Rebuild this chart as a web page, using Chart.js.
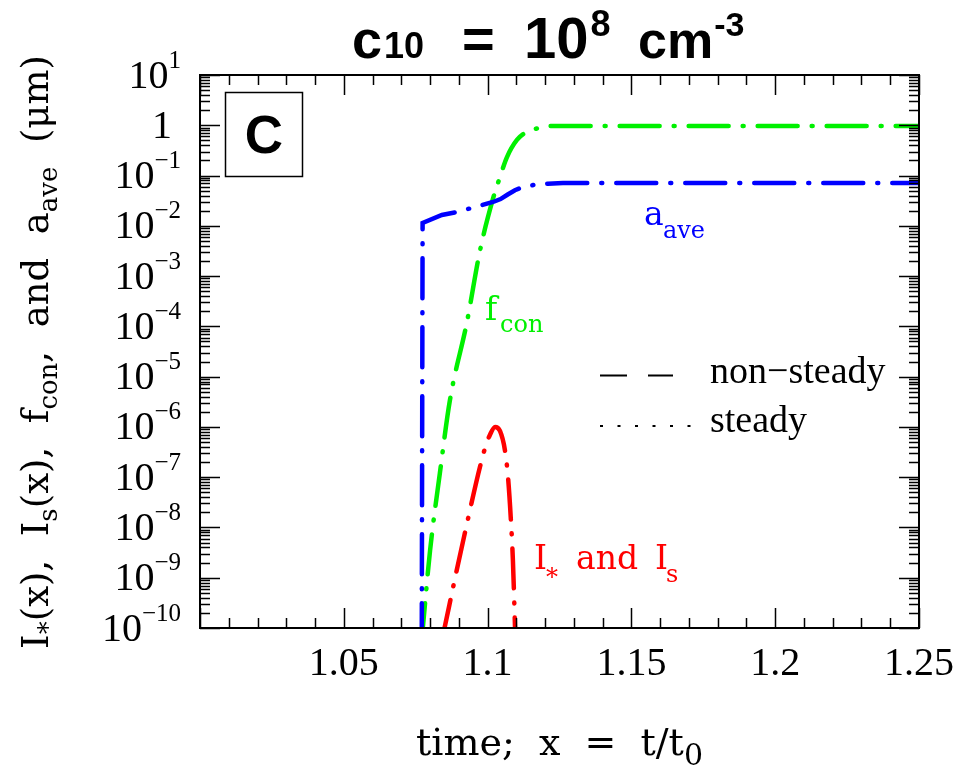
<!DOCTYPE html>
<html>
<head>
<meta charset="utf-8">
<script src="https://cdn.jsdelivr.net/npm/chart.js@4"></script>
<style>
  html, body { margin: 0; padding: 0; background: #fff; }
  #wrap { width: 960px; height: 766px; }
</style>
</head>
<body>
<div id="wrap"><canvas id="chart" width="960" height="766"></canvas></div>
<script>
// ----- DATA -----
// a_ave, average grain radius (um), blue
const aaveX = [1.0771, 1.0774, 1.0841, 1.0894, 1.1019, 1.1045, 1.1070, 1.1095, 1.1123, 1.1160, 1.1210, 1.1262, 1.25];
const aaveY = [5e-11, 0.0114, 0.0164, 0.0188, 0.0298, 0.034, 0.042, 0.051, 0.059, 0.065, 0.069, 0.071, 0.071];

// f_con, condensation efficiency, green
const fconX = [1.0770, 1.0800, 1.0834, 1.0869, 1.0928, 1.0974, 1.1019, 1.1043, 1.1067, 1.1102, 1.1137, 1.1182, 1.1234, 1.25];
const fconY = [5e-11, 3.5e-9, 1.2e-7, 3.4e-6, 1.2e-4, 3.3e-3, 0.035, 0.093, 0.23, 0.51, 0.74, 0.89, 0.97, 0.97];

// I_* and I_s, nucleation rates, red
const istarX = [1.0842, 1.0918, 1.0991, 1.1008, 1.1026, 1.1043, 1.1060, 1.1071, 1.1081, 1.1088, 1.1097];
const istarY = [6e-11, 6.5e-9, 3.8e-7, 6.9e-7, 1.0e-6, 8.3e-7, 3.5e-7, 1.0e-7, 1.4e-8, 2.2e-9, 5e-11];

// ----- AXES -----
const xMin = 1.0, xMax = 1.25;
const yMin = 1e-10, yMax = 10;
const xTickValues = [1.05, 1.1, 1.15, 1.2, 1.25];
const xTickLabels = ['1.05', '1.1', '1.15', '1.2', '1.25'];
const yTickExps = [1, 0, -1, -2, -3, -4, -5, -6, -7, -8, -9, -10];

// ----- HELPERS -----
const serif = '"Liberation Serif", serif';
const dserif = '"DejaVu Serif", serif';
const sans = '"Liberation Sans", Arial, sans-serif';

function partsWidth(ctx, parts, family) {
  let w = 0;
  for (const p of parts) {
    ctx.font = (p[3] || '') + ' ' + p[1] + 'px ' + family;
    w += ctx.measureText(p[0]).width + (p[4] || 0);
  }
  return w;
}

// draw text pieces of mixed size: [text, size, dy, weight, extra gap after]
function drawParts(ctx, x, y, parts, family, color) {
  ctx.fillStyle = color;
  ctx.textAlign = 'left';
  ctx.textBaseline = 'alphabetic';
  let cx = x;
  for (const p of parts) {
    ctx.font = (p[3] || '') + ' ' + p[1] + 'px ' + family;
    ctx.fillText(p[0], cx, y + (p[2] || 0));
    cx += ctx.measureText(p[0]).width + (p[4] || 0);
  }
}

function expLabel(e) {
  if (e === 0) return [['1', 40, 0]];
  return [['10', 40, 0], [e < 0 ? '\u2212' + (-e) : String(e), 25, -20]];
}

// frame, inward ticks, labels and annotations
const decorPlugin = {
  id: 'decor',
  afterDraw(chart) {
    const ctx = chart.ctx;
    const xs = chart.scales.x, ys = chart.scales.y;
    const { left, right, top, bottom } = chart.chartArea;
    ctx.save();

    // frame
    ctx.strokeStyle = '#000';
    ctx.lineWidth = 2;
    ctx.strokeRect(left, top, right - left, bottom - top);

    // x ticks every 0.01, long every 0.05
    ctx.lineWidth = 1.5;
    ctx.beginPath();
    for (let i = 0; i <= 25; i++) {
      const px = Math.round(xs.getPixelForValue(xMin + i * 0.01)) + 0.5;
      const len = i % 5 === 0 ? 20 : 10;
      ctx.moveTo(px, bottom); ctx.lineTo(px, bottom - len);
      ctx.moveTo(px, top); ctx.lineTo(px, top + len);
    }
    // y ticks, decades long, 2..9 short
    for (const e of yTickExps) {
      const py = Math.round(ys.getPixelForValue(Math.pow(10, e))) + 0.5;
      ctx.moveTo(left, py); ctx.lineTo(left + 20, py);
      ctx.moveTo(right, py); ctx.lineTo(right - 20, py);
      if (e < 1) {
        for (let k = 2; k <= 9; k++) {
          const pm = Math.round(ys.getPixelForValue(k * Math.pow(10, e))) + 0.5;
          ctx.moveTo(left, pm); ctx.lineTo(left + 10, pm);
          ctx.moveTo(right, pm); ctx.lineTo(right - 10, pm);
        }
      }
    }
    ctx.stroke();

    // x tick labels
    ctx.fillStyle = '#000';
    ctx.font = '40px ' + serif;
    ctx.textAlign = 'center';
    ctx.textBaseline = 'alphabetic';
    xTickValues.forEach((v, i) => {
      ctx.fillText(xTickLabels[i], xs.getPixelForValue(v), bottom + 47);
    });

    // y tick labels
    for (const e of yTickExps) {
      const py = ys.getPixelForValue(Math.pow(10, e));
      const parts = expLabel(e);
      const w = partsWidth(ctx, parts, serif);
      drawParts(ctx, (e === 0 ? 172 : 181) - w, py + 12.5, parts, serif, '#000');
    }

    // x axis title
    const xt = [['time;  x  =  t/t', 38, 0], ['0', 30, 10]];
    const xtw = partsWidth(ctx, xt, dserif);
    drawParts(ctx, (left + right) / 2 - xtw / 2, 755, xt, dserif, '#000');

    // y axis title (rotated)
    const yt = [['I', 37, 0], ['*', 26, 9], ['(x),  I', 37, 0], ['s', 26, 9],
                ['(x),  f', 37, 0], ['con', 26, 9], [',  and  a', 37, 0], ['ave', 26, 9],
                ['  (\u03bcm)', 37, 0]];
    const ytw = partsWidth(ctx, yt, dserif);
    ctx.save();
    ctx.translate(48, 352);
    ctx.rotate(-Math.PI / 2);
    drawParts(ctx, -ytw / 2, 0, yt, dserif, '#000');
    ctx.restore();

    // title
    drawParts(ctx, 352, 58, [['c', 54, 0, 'bold', 2], ['10', 36, 0, 'bold']], sans, '#000');
    drawParts(ctx, 462, 58, [['=', 56, 0, 'bold']], sans, '#000');
    drawParts(ctx, 524, 58, [['10', 58, 0, 'bold', 2], ['8', 36, -22, 'bold']], sans, '#000');
    drawParts(ctx, 638, 58, [['cm', 52, 0, 'bold', 1], ['-3', 34, -22, 'bold']], sans, '#000');

    // panel letter box
    ctx.lineWidth = 1.5;
    ctx.strokeStyle = '#000';
    ctx.strokeRect(225.5, 92.5, 77, 84);
    ctx.font = 'bold 53px ' + sans;
    ctx.textAlign = 'center';
    ctx.fillText('C', 264, 153);

    // curve labels
    drawParts(ctx, 644, 225, [['a', 33, 0]], dserif, '#0000ff');
    drawParts(ctx, 663, 238, [['ave', 24, 0]], dserif, '#0000ff');
    drawParts(ctx, 485, 320, [['f', 33, 0]], dserif, '#00f000');
    drawParts(ctx, 500, 332, [['con', 24, 0]], dserif, '#00f000');
    drawParts(ctx, 534, 569, [['I', 33, 0]], dserif, '#ff0000');
    drawParts(ctx, 546, 585, [['*', 24, 0]], dserif, '#ff0000');
    drawParts(ctx, 576, 569, [['and', 33, 0]], dserif, '#ff0000');
    drawParts(ctx, 655, 569, [['I', 33, 0]], dserif, '#ff0000');
    drawParts(ctx, 666, 582, [['s', 24, 0]], dserif, '#ff0000');

    // line style key
    ctx.strokeStyle = '#000';
    ctx.lineWidth = 2;
    ctx.beginPath();
    ctx.moveTo(600, 375.5); ctx.lineTo(627, 375.5);
    ctx.moveTo(648, 375.5); ctx.lineTo(673, 375.5);
    ctx.stroke();
    ctx.fillStyle = '#000';
    for (let i = 0; i < 6; i++) ctx.fillRect(600 + i * 17.5, 425, 3, 2);
    drawParts(ctx, 710, 383, [['non\u2212steady', 38, 0]], serif, '#000');
    drawParts(ctx, 710, 432, [['steady', 38, 0]], serif, '#000');

    ctx.restore();
  }
};

function pts(xa, ya) { return xa.map((x, i) => ({ x: x, y: ya[i] })); }

const lineStyle = {
  borderWidth: 4.5,
  borderDash: [40, 14, 1, 14],
  borderCapStyle: 'round',
  pointRadius: 0,
  fill: false
};

const ctx = document.getElementById('chart').getContext('2d');
new Chart(ctx, {
  type: 'line',
  data: {
    datasets: [
      Object.assign({ label: 'a_ave', data: pts(aaveX, aaveY), borderColor: '#0000ff', tension: 0 }, lineStyle),
      Object.assign({ label: 'f_con', data: pts(fconX, fconY), borderColor: '#00f000', cubicInterpolationMode: 'monotone' }, lineStyle),
      Object.assign({ label: 'I* and Is', data: pts(istarX, istarY), borderColor: '#ff0000', cubicInterpolationMode: 'monotone' }, lineStyle)
    ]
  },
  options: {
    responsive: false,
    animation: false,
    layout: { padding: { left: 200, right: 41, top: 75, bottom: 138 } },
    scales: {
      x: { type: 'linear', min: xMin, max: xMax, display: false },
      y: { type: 'logarithmic', min: yMin, max: yMax, display: false }
    },
    plugins: { legend: { display: false }, tooltip: { enabled: false } }
  },
  plugins: [decorPlugin]
});
</script>
</body>
</html>
